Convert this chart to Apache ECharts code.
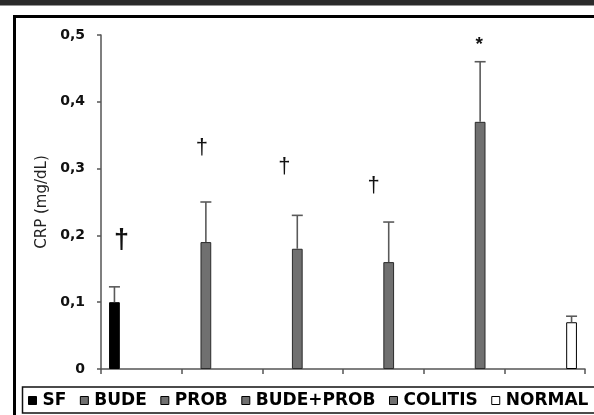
<!DOCTYPE html>
<html>
<head>
<meta charset="utf-8">
<script src="https://cdn.jsdelivr.net/npm/echarts@6/dist/echarts.min.js"></script>
<style>
html,body{margin:0;padding:0;background:#fff;}
#chart{width:594px;height:415px;}
</style>
</head>
<body>
<div id="chart"></div>
<script>
// ---- data ----
const groups = ['SF', 'BUDE', 'PROB', 'BUDE+PROB', 'COLITIS', 'NORMAL'];
const means = [0.10, 0.19, 0.18, 0.16, 0.37, 0.07];
const errUpper = [0.023, 0.06, 0.05, 0.06, 0.09, 0.009];
const marks = ['†', '†', '†', '†', '*', ''];
const markValues = [0.193, 0.331, 0.302, 0.274, 0.49, null];
const yTicks = [0, 0.1, 0.2, 0.3, 0.4, 0.5];

// ---- styles ----
const fills = ['#000000', '#707070', '#707070', '#707070', '#707070', '#ffffff'];
const borders = ['#000000', '#2a2a2a', '#2a2a2a', '#2a2a2a', '#2a2a2a', '#000000'];
const markStyle = [
  {dx: 7, size: 27, weight: 'bold'}, {dx: -4, size: 22, weight: 'normal'}, {dx: -13, size: 22, weight: 'normal'},
  {dx: -15, size: 22, weight: 'normal'}, {dx: -1, size: 19, weight: 'bold'}, {dx: 0, size: 17, weight: 'normal'}
];
const FONT = '"DejaVu Sans", "Liberation Sans", Arial, sans-serif';
const CAT_GAP = 0.2; // barCategoryGap fraction
const N = groups.length;

function barCenter(api, i) {
  const c = api.coord([i, 0]);
  const bw = api.size([1, 0])[0];
  const start = c[0] - bw / 2;
  const inner = bw * (1 - CAT_GAP);
  return start + bw * CAT_GAP / 2 + (i + 0.5) * inner / N;
}

const barSeries = groups.map((g, i) => ({
  name: g,
  type: 'bar',
  barGap: '0%',
  barCategoryGap: '20%',
  data: groups.map((_, j) => j === i ? means[i] : '-'),
  itemStyle: {color: fills[i], borderColor: borders[i], borderWidth: 1},
  emphasis: {disabled: true},
  z: 2
}));

const errSeries = {
  type: 'custom',
  silent: true,
  z: 3,
  data: means.map((m, i) => [i, m, m + errUpper[i]]),
  renderItem: function (params, api) {
    const i = api.value(0);
    const x = barCenter(api, i);
    const y0 = api.coord([i, api.value(1)])[1];
    const y1 = api.coord([i, api.value(2)])[1];
    const cap = 5.5;
    const st = {stroke: '#5a5a5a', lineWidth: 1.6};
    return {
      type: 'group',
      children: [
        {type: 'line', shape: {x1: x, y1: y0, x2: x, y2: y1}, style: st},
        {type: 'line', shape: {x1: x - cap, y1: y1, x2: x + cap, y2: y1}, style: st}
      ]
    };
  }
};

const markSeries = {
  type: 'custom',
  silent: true,
  z: 4,
  data: markValues.map((v, i) => [i, v == null ? 0 : v]).filter((d, i) => markValues[i] != null),
  renderItem: function (params, api) {
    const i = api.value(0);
    const x = barCenter(api, i) + markStyle[i].dx;
    const y = api.coord([i, api.value(1)])[1];
    const txt = marks[i];
    const isStar = txt === '*';
    return {
      type: 'text',
      style: {
        text: txt,
        x: x,
        y: isStar ? y + 3 : y,
        align: 'center',
        verticalAlign: 'middle',
        font: markStyle[i].weight + ' ' + markStyle[i].size + 'px "Liberation Sans", Arial, sans-serif',
        fill: '#111'
      }
    };
  }
};

const chart = echarts.init(document.getElementById('chart'), null, {renderer: 'canvas'});
chart.setOption({
  animation: false,
  backgroundColor: '#ffffff',
  grid: {left: 101, right: 9, top: 35, bottom: 46, containLabel: false},
  legend: {
    left: 28,
    top: 392,
    width: 700,
    padding: 0,
    itemWidth: 8,
    itemHeight: 8,
    itemGap: 13.5,
    icon: 'rect',
    selectedMode: false,
    data: groups.map((g, i) => ({
      name: g,
      itemStyle: {color: fills[i], borderColor: '#000', borderWidth: 1}
    })),
    textStyle: {
      fontFamily: FONT,
      fontWeight: 'bold',
      fontSize: 17,
      color: '#000',
      padding: [0, 0, 0, 1]
    }
  },
  xAxis: {
    type: 'category',
    data: groups,
    axisLine: {lineStyle: {color: '#555', width: 1.5}},
    axisTick: {show: true, interval: 0, length: 5, lineStyle: {color: '#555', width: 1.5}},
    axisLabel: {show: false, interval: 0},
    splitLine: {show: false}
  },
  yAxis: {
    type: 'value',
    min: 0,
    max: 0.5,
    interval: 0.1,
    name: 'CRP (mg/dL)',
    nameLocation: 'middle',
    nameGap: 46,
    nameTextStyle: {fontFamily: FONT, fontSize: 15, color: '#222'},
    axisLine: {show: true, lineStyle: {color: '#555', width: 1.5}},
    axisTick: {show: true, length: 4, lineStyle: {color: '#555', width: 1.5}},
    splitLine: {show: false},
    axisLabel: {
      margin: 16,
      fontFamily: FONT,
      fontWeight: 'bold',
      fontSize: 14,
      color: '#111',
      formatter: function (v) {
        const t = yTicks.find(t => Math.abs(t - v) < 1e-9);
        return t === undefined ? '' : String(Math.round(t * 10) / 10).replace('.', ',');
      }
    }
  },
  graphic: [
    {type: 'rect', shape: {x: 0, y: 0, width: 594, height: 5.5}, style: {fill: '#2b2b2b'}, z: 100},
    {type: 'rect', shape: {x: 14.5, y: 16.5, width: 600, height: 420}, style: {fill: 'none', stroke: '#000', lineWidth: 3}, z: 100},
    {type: 'rect', shape: {x: 22.5, y: 387, width: 600, height: 26}, style: {fill: 'none', stroke: '#111', lineWidth: 1.5}, z: 100}
  ],
  series: barSeries.concat([errSeries, markSeries])
});
</script>
</body>
</html>
